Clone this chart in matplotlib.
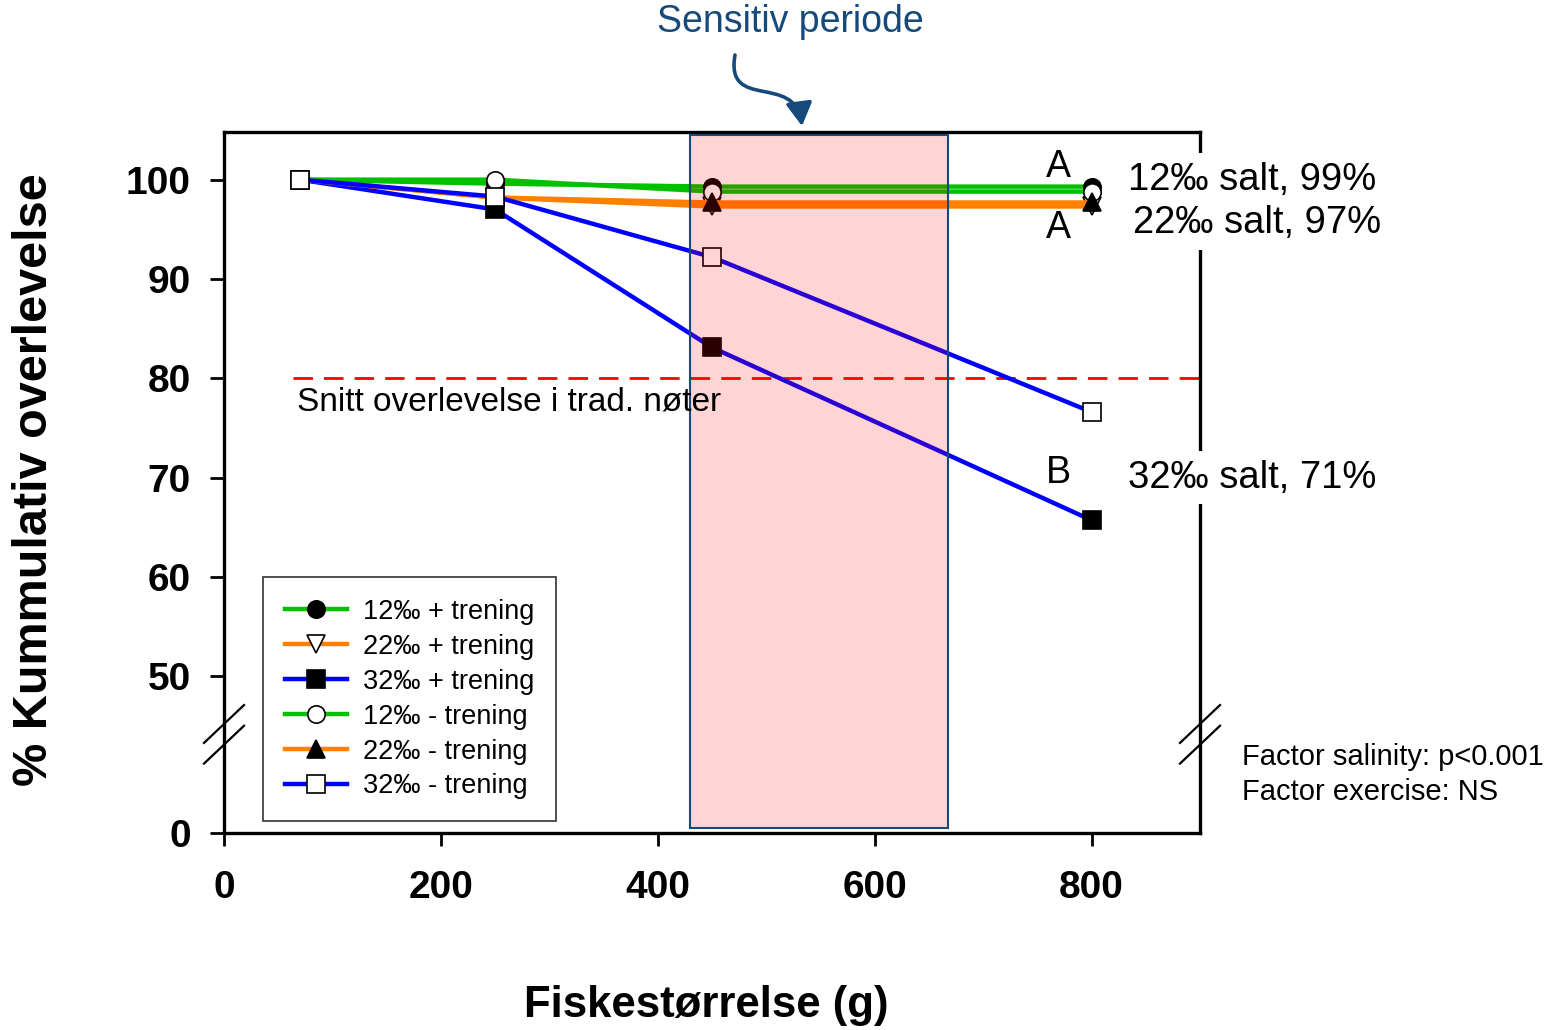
import numpy as np
import matplotlib
matplotlib.use('Agg')
import matplotlib.pyplot as plt
from matplotlib.patches import FancyArrowPatch
from matplotlib.path import Path
from matplotlib.lines import Line2D

plt.rcParams['font.family'] = ['Liberation Sans', 'DejaVu Sans']

# data
size_g = [70, 250, 450, 800]
s12_pos = [100, 99.6, 99.3, 99.3]
s22_pos = [100, 98.2, 97.3, 97.3]
s32_pos = [100, 97.0, 83.1, 65.7]
s12_neg = [100, 100.0, 98.8, 98.8]
s22_neg = [100, 98.2, 97.7, 97.7]
s32_neg = [100, 98.3, 92.2, 76.6]
labels = ['12‰ + trening', '22‰ + trening', '32‰ + trening',
          '12‰ - trening', '22‰ - trening', '32‰ - trening']
trad_level = 80
sensitive = (430, 668)

green = '#00c000'
orange = '#ff8000'
blue = '#0000ff'
navy = '#164a7a'

# broken y axis: 0..50 squeezed
def fwd(y):
    y = np.asarray(y, dtype=float)
    return np.where(y >= 50, y, 50 - (50 - y) * 15.8 / 50)

def inv(f):
    f = np.asarray(f, dtype=float)
    return np.where(f >= 50, f, 50 - (50 - f) * 50 / 15.8)

fig = plt.figure(figsize=(15.6, 10.3), dpi=100)
ax = fig.add_axes([224 / 1560, 1 - 833 / 1030, 976 / 1560, 701 / 1030])
ax.set_yscale('function', functions=(fwd, inv))

styles = [
    (s12_pos, green, 'o', 'black'),
    (s22_pos, orange, 'v', 'white'),
    (s32_pos, blue, 's', 'black'),
    (s12_neg, green, 'o', 'white'),
    (s22_neg, orange, '^', 'black'),
    (s32_neg, blue, 's', 'white'),
]
for (vals, col, mk, fc), lab in zip(styles, labels):
    ax.plot(size_g, vals, color=col, lw=3.2, marker=mk, markersize=12.5,
            markerfacecolor=fc, markeredgecolor='black', markeredgewidth=1.2,
            label=lab, zorder=3)

ax.axhline(trad_level, xmin=64 / 900, xmax=1, color='red', lw=2,
           dashes=(7, 4), zorder=2)
ax.text(67, 77.6, 'Snitt overlevelse i trad. nøter', fontsize=24,
        va='center', ha='left', zorder=6)

ax.axvspan(sensitive[0], sensitive[1], ymin=0.007, ymax=0.996,
           facecolor=(1, 0, 0, 0.17), edgecolor=navy, lw=1.5, zorder=5)

ax.set_xlim(0, 900)
ax.set_ylim(0, 104.8)
ax.set_xticks([0, 200, 400, 600, 800])
ax.set_yticks([0, 50, 60, 70, 80, 90, 100])
ax.tick_params(axis='both', direction='out', width=2, labelsize=28)
ax.tick_params(axis='y', length=10, pad=14)
ax.tick_params(axis='x', length=9, pad=18)
for t in ax.get_xticklabels() + ax.get_yticklabels():
    t.set_fontweight('bold')
for sp in ax.spines.values():
    sp.set_linewidth(2.4)

leg = ax.legend(loc='upper left', bbox_to_anchor=(0.04, 0.365), fontsize=19.5,
                frameon=True, fancybox=False, edgecolor='black',
                handlelength=2.3, labelspacing=0.33, borderpad=0.8,
                handletextpad=0.6, borderaxespad=0)
leg.get_frame().set_linewidth(1.2)
leg.set_zorder(7)

# group letters and end labels
ax.text(769, 101.3, 'A', fontsize=27, ha='center', va='center')
ax.text(769, 95.1, 'A', fontsize=27, ha='center', va='center')
ax.text(769, 70.5, 'B', fontsize=27, ha='center', va='center')
box = dict(facecolor='white', edgecolor='none', pad=6)
ax.text(834, 100.0, '12‰ salt, 99%', fontsize=27.5, ha='left', va='center',
        bbox=box, clip_on=False, zorder=8)
ax.text(838, 95.6, '22‰ salt, 97%', fontsize=27.5, ha='left', va='center',
        bbox=box, clip_on=False, zorder=8)
ax.text(834, 70.0, '32‰ salt, 71%', fontsize=27.5, ha='left', va='center',
        bbox=box, clip_on=False, zorder=8)

# break marks on both y spines
for xa in (0, 1):
    for yc in (0.1555, 0.126):
        ax.add_line(Line2D([xa - 0.0205, xa + 0.0205], [yc - 0.027, yc + 0.027],
                           transform=ax.transAxes, color='black', lw=1.6,
                           clip_on=False, zorder=9))

fig.text(1242 / 1560, 1 - 757 / 1030, 'Factor salinity: p<0.001', fontsize=21,
         va='center', ha='left')
fig.text(1242 / 1560, 1 - 792 / 1030, 'Factor exercise: NS', fontsize=21,
         va='center', ha='left')

fig.text(706 / 1560, 1 - 1005 / 1030, 'Fiskestørrelse (g)', fontsize=31.5,
         fontweight='bold', ha='center', va='center')
fig.text(35 / 1560, 1 - 480 / 1030, '% Kummulativ overlevelse', fontsize=35,
         fontweight='bold', ha='center', va='center', rotation=90)

fig.text(790 / 1560, 1 - 22 / 1030, 'Sensitiv periode', fontsize=27,
         color=navy, ha='center', va='center')

# curly arrow
pts = [(735, 55), (725, 112), (795, 72), (802, 126)]
verts = [(px / 1560, 1 - py / 1030) for px, py in pts]
arrow_path = Path(verts, [Path.MOVETO, Path.CURVE4, Path.CURVE4, Path.CURVE4])
arr = FancyArrowPatch(path=arrow_path, transform=fig.transFigure,
                      arrowstyle='-|>,head_length=14,head_width=8',
                      color=navy, lw=2.6)
fig.add_artist(arr)

fig.savefig('out.png', dpi=100)
